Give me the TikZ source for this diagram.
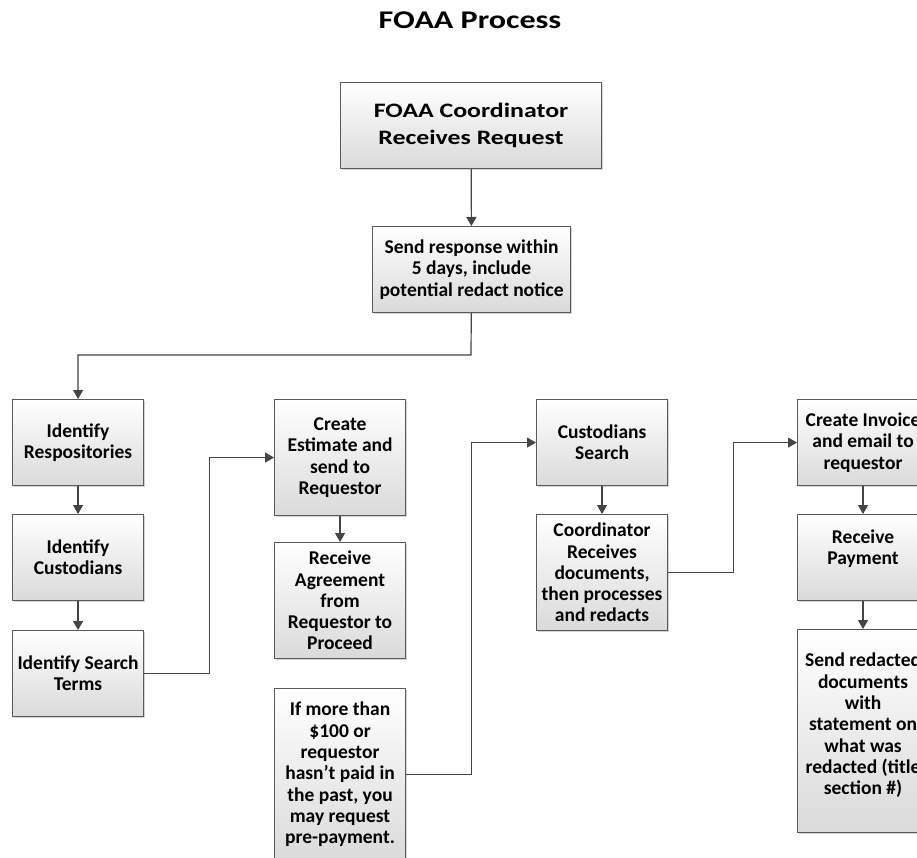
\documentclass[tikz,border=0pt]{standalone}
\usepackage{fontspec}
\setmainfont{Carlito}
\newfontfamily\widefont{Carlito}[FakeStretch=1.26]
\usetikzlibrary{arrows.meta,shadows}
\definecolor{boxline}{HTML}{5A5A5A}
\definecolor{linecol}{HTML}{454545}
\definecolor{boxbot}{HTML}{DADADA}
\tikzset{
  box/.style={draw=boxline, line width=1.1pt, top color=white, bottom color=boxbot,
    align=center, inner sep=0pt, anchor=north west,
    font=\fontsize{19.5}{21.3}\selectfont\bfseries,
    drop shadow={shadow xshift=1.6pt, shadow yshift=-1.6pt, fill=black!30, opacity=.55}},
  colbox/.style={box, minimum width=131pt},
  conn/.style={draw=linecol, line width=1.2pt, -{Triangle[length=9pt,width=10pt]}}
}
\begin{document}
\begin{tikzpicture}[x=1pt,y=-1pt]
\useasboundingbox (0,0) rectangle (917,858);
\clip (0,0) rectangle (917,858);
\fill[white] (0,0) rectangle (917,858);
\node[font=\widefont\fontsize{25.5}{28}\selectfont\bfseries] (title) at (470,20) {FOAA Process};
% top boxes
\node[box, minimum width=261pt, minimum height=86pt, font=\widefont\fontsize{20.5}{27}\selectfont\bfseries] (a) at (340,82) {FOAA Coordinator\\Receives Request};
\node[box, minimum width=198pt, minimum height=86pt] (b) at (372,226) {Send response within\\5 days, include\\potential redact notice};
% column 1
\node[colbox, minimum height=86pt] (c1) at (12,399) {Identify\\Respositories};
\node[colbox, minimum height=86pt] (c2) at (12,514) {Identify\\Custodians};
\node[colbox, minimum height=86pt] (c3) at (12,630) {Identify Search\\Terms};
% column 2
\node[colbox, minimum height=116pt] (d1) at (274,399) {Create\\Estimate and\\send to\\Requestor};
\node[colbox, minimum height=116pt] (d2) at (274,542) {Receive\\Agreement\\from\\Requestor to\\Proceed};
\node[colbox, minimum height=172pt] (d3) at (274,688) {If more than\\\$100 or\\requestor\\hasn’t paid in\\the past, you\\may request\\pre-payment.};
% column 3
\node[colbox, minimum height=86pt] (e1) at (536,399) {Custodians\\Search};
\node[colbox, minimum height=116pt] (e2) at (536,514) {Coordinator\\Receives\\documents,\\then processes\\and redacts};
% column 4
\node[colbox, minimum height=86pt] (f1) at (797,399) {Create Invoice\\and email to\\requestor};
\node[colbox, minimum height=86pt] (f2) at (797,514) {Receive\\Payment\\[-1pt]};
\node[colbox, minimum height=203pt] (f3) at (797,629) {Send redacted\\documents\\with\\statement on\\what was\\redacted (title\\section \#)\\[-7pt]};
% connectors
\coordinate (j1) at (471,355);
\draw[conn] (a) -- (b);
\draw[conn] (b) -- (j1) -| (c1);
\draw[conn] (c1) -- (c2);
\draw[conn] (c2) -- (c3);
\draw[conn] (c3.east) -- ++(65,0) |- (d1.west);
\draw[conn] (d1) -- (d2);
\draw[conn] (d3.east) -- ++(65,0) |- (e1.west);
\draw[conn] (e1) -- (e2);
\draw[conn] (e2.east) -- ++(65,0) |- (f1.west);
\draw[conn] (f1) -- (f2);
\draw[conn] (f2) -- (f3);
\end{tikzpicture}
\end{document}
